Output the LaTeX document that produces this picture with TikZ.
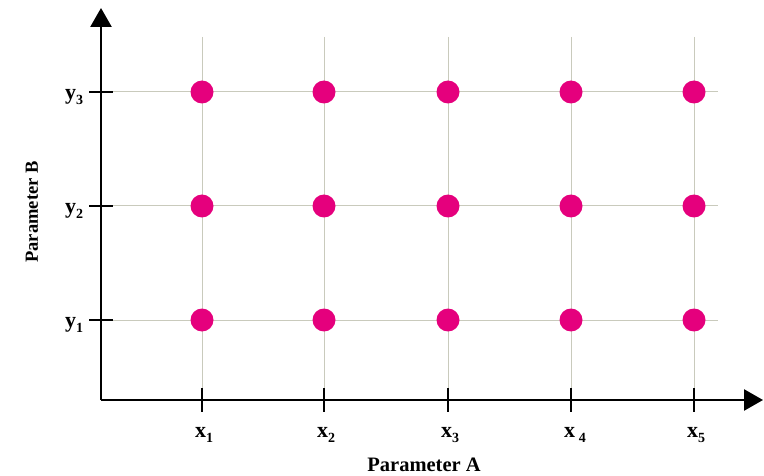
\documentclass[tikz,border=0pt]{standalone}
\usepackage{fontspec}
\setmainfont{Liberation Serif}
\usetikzlibrary{arrows.meta}
\definecolor{dotpink}{HTML}{E5007D}
\definecolor{gridgray}{HTML}{C9CABC}
\newcommand{\lowsub}[1]{\raisebox{-5pt}{\fontsize{14}{16}\selectfont\bfseries #1}}
\tikzset{
  axisline/.style={line width=2.5pt, -{Triangle[length=19pt, width=21pt]}},
  gridline/.style={draw=gridgray, line width=1pt},
  tickmark/.style={line width=2.2pt},
  samplept/.style={circle, fill=dotpink, minimum size=23pt, inner sep=0pt},
  ticklabel/.style={font=\fontsize{22}{26}\selectfont\bfseries, inner sep=0pt},
  axislabel/.style={font=\fontsize{20.5}{24}\selectfont\bfseries, inner sep=0pt},
}

\begin{document}
\begin{tikzpicture}[x=1pt, y=-1pt]
  \useasboundingbox (0,0) rectangle (764,476);
  \coordinate (origin) at (101,400);
  \coordinate (xend) at (763,400);
  \coordinate (yend) at (101,8);
  % grid
  \foreach \i/\x in {1/202,2/324,3/448,4/571,5/694} {
    \coordinate (gt\i) at (\x,37);
    \coordinate (gb\i) at (\x,400);
    \draw[gridline] (gt\i) -- (gb\i);
  }
  \foreach \j/\y in {1/320,2/206,3/92} {
    \coordinate (gl\j) at (101,\y);
    \coordinate (gr\j) at (718,\y);
    \draw[gridline] (gl\j) -- (gr\j);
  }
  % axes
  \draw[axisline] (origin) -- (xend);
  \draw[axisline] (origin) -- (yend);
  % ticks
  \foreach \i in {1,...,5} {
    \draw[tickmark] ([yshift=12pt]gb\i) -- ([yshift=-12pt]gb\i);
  }
  \foreach \j in {1,2,3} {
    \draw[tickmark] ([xshift=-12pt]gl\j) -- ([xshift=12pt]gl\j);
  }
  % tick labels
  \foreach \i/\x in {1/204,2/326,3/450,5/696} {
    \node[ticklabel] (xl\i) at (\x,435) {x\lowsub{\i}};
  }
  \node[ticklabel] (xl4) at (575,435) {x\,\lowsub{4}};
  \foreach \j/\y in {1/320,2/206,3/92} {
    \node[ticklabel] (yl\j) at (74,\y+5) {y\lowsub{\j}};
  }
  % axis labels
  \node[axislabel] (xname) at (424,465) {Parameter A};
  \node[axislabel, rotate=90, font=\fontsize{18.5}{22}\selectfont\bfseries] (yname) at (32,212) {Parameter B};
  % sample points
  \foreach \i in {1,...,5} {
    \foreach \j in {1,2,3} {
      \node[samplept] (p\i\j) at (gt\i |- gl\j) {};
    }
  }
\end{tikzpicture}
\end{document}
